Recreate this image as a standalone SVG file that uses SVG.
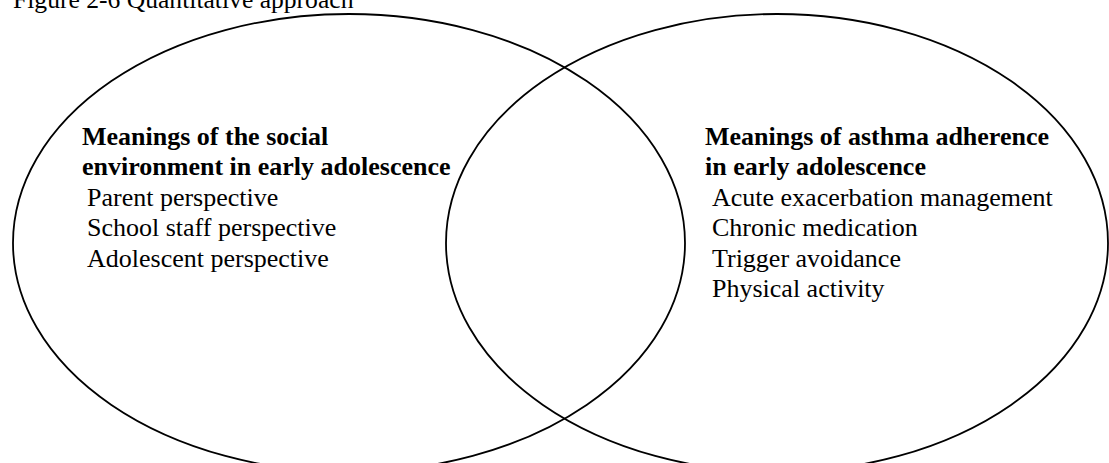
<svg xmlns="http://www.w3.org/2000/svg" width="1109" height="463" viewBox="0 0 1109 463">
  <style>
    .bg { fill: #ffffff; }
    .ring { fill: none; stroke: #000000; stroke-width: 1.8; }
    text { font-family: "Liberation Serif", "Times New Roman", serif; font-size: 26px; fill: #000000; }
    .head { font-weight: bold; }
    .title { font-size: 25.6px; }
  </style>
  <rect class="bg" x="0" y="0" width="1109" height="463"/>
  <text class="title" x="13" y="8">Figure 2-6 Quantitative approach</text>
  <g id="social-environment">
    <ellipse class="ring" cx="349" cy="243" rx="336" ry="229"/>
    <text class="head" x="82" y="145">Meanings of the social</text>
    <text class="head" x="82" y="175">environment in early adolescence</text>
    <text x="87" y="206">Parent perspective</text>
    <text x="87" y="236">School staff perspective</text>
    <text x="87" y="267">Adolescent perspective</text>
  </g>
  <g id="asthma-adherence">
    <ellipse class="ring" cx="777" cy="243" rx="331" ry="229"/>
    <text class="head" x="705" y="145">Meanings of asthma adherence</text>
    <text class="head" x="705" y="175">in early adolescence</text>
    <text x="712" y="206">Acute exacerbation management</text>
    <text x="712" y="236">Chronic medication</text>
    <text x="712" y="267">Trigger avoidance</text>
    <text x="712" y="297">Physical activity</text>
  </g>
</svg>
